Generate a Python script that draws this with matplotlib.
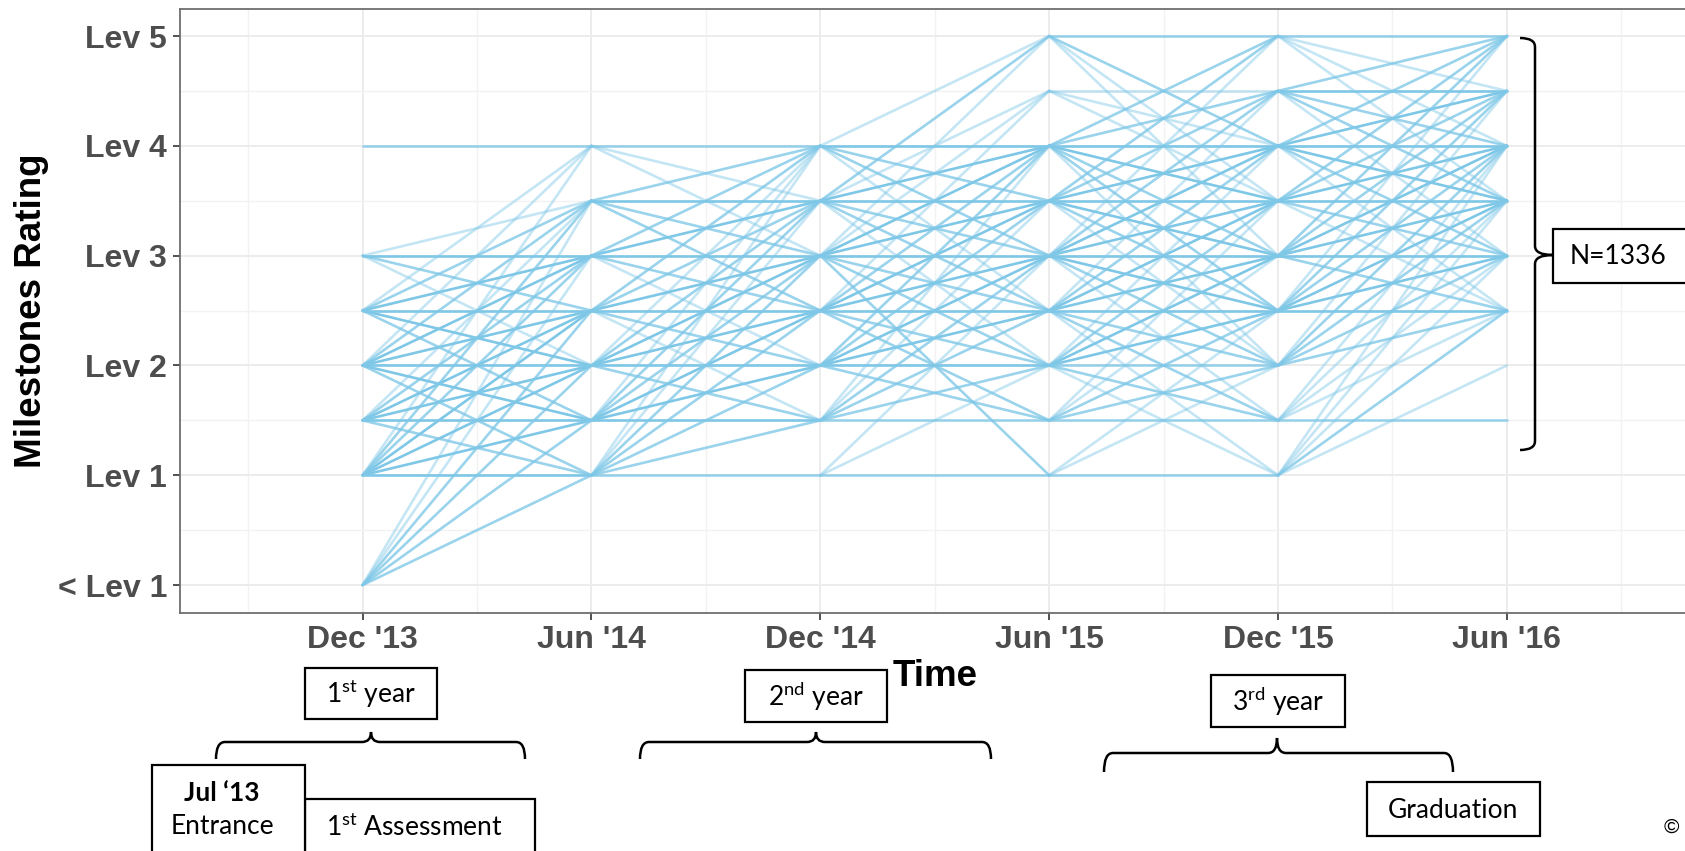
import matplotlib
matplotlib.use("Agg")
import matplotlib.pyplot as plt
from matplotlib.path import Path
from matplotlib.patches import PathPatch, Rectangle

# Milestones rating trajectories, Dec 2013 - Jun 2016
time_pos = [0, 1, 2, 3, 4, 5]
time_labels = ["Dec '13", "Jun '14", "Dec '14", "Jun '15", "Dec '15", "Jun '16"]
level_pos = [0, 1, 2, 3, 4, 5]
level_labels = ["< Lev 1", "Lev 1", "Lev 2", "Lev 3", "Lev 4", "Lev 5"]

# transitions between two assessments: (from level, to level, density 1=few .. 3=many)
dec13_jun14 = [
    (4, 4, 2),
    (3, 3, 3), (3, 3.5, 1), (3, 2.5, 2), (3, 2, 1),
    (2.5, 2.5, 3), (2.5, 3, 3), (2.5, 3.5, 2), (2.5, 4, 1), (2.5, 2, 3), (2.5, 1.5, 2),
    (2, 2, 3), (2, 2.5, 3), (2, 3, 3), (2, 3.5, 2), (2, 4, 1), (2, 1.5, 3), (2, 1, 2),
    (1.5, 1.5, 3), (1.5, 2, 3), (1.5, 2.5, 3), (1.5, 3, 2), (1.5, 3.5, 1), (1.5, 1, 2),
    (1, 1, 3), (1, 1.5, 3), (1, 2, 3), (1, 2.5, 3), (1, 3, 2), (1, 3.5, 2), (1, 4, 1),
    (0, 1, 2), (0, 1.5, 2), (0, 2, 2), (0, 2.5, 2), (0, 3, 1), (0, 3.5, 1),
]
jun14_dec14 = [
    (4, 4, 2), (4, 3.5, 1), (4, 3, 1),
    (3.5, 3.5, 3), (3.5, 4, 2), (3.5, 3, 2), (3.5, 2.5, 2),
    (3, 3, 3), (3, 3.5, 3), (3, 4, 2), (3, 2.5, 2), (3, 2, 1),
    (2.5, 2.5, 3), (2.5, 3, 3), (2.5, 3.5, 2), (2.5, 4, 2), (2.5, 2, 2), (2.5, 1.5, 1),
    (2, 2, 3), (2, 2.5, 3), (2, 3, 3), (2, 3.5, 2), (2, 4, 1), (2, 1.5, 2),
    (1.5, 1.5, 3), (1.5, 2, 3), (1.5, 2.5, 3), (1.5, 3, 2), (1.5, 3.5, 2), (1.5, 4, 1),
    (1, 1, 2), (1, 1.5, 2), (1, 2, 2), (1, 2.5, 2), (1, 3, 2), (1, 3.5, 1), (1, 4, 1),
]
dec14_jun15 = [
    (4, 5, 1), (4, 4, 3), (4, 3.5, 2), (4, 3, 2), (4, 2.5, 1),
    (3.5, 5, 2), (3.5, 4.5, 1), (3.5, 4, 3), (3.5, 3.5, 3), (3.5, 3, 2), (3.5, 2.5, 2), (3.5, 2, 1),
    (3, 5, 1), (3, 4.5, 1), (3, 4, 3), (3, 3.5, 3), (3, 3, 3), (3, 2.5, 2), (3, 2, 2), (3, 1, 2),
    (2.5, 4.5, 1), (2.5, 4, 2), (2.5, 3.5, 3), (2.5, 3, 3), (2.5, 2.5, 3), (2.5, 2, 2), (2.5, 1.5, 2),
    (2, 4, 2), (2, 3.5, 2), (2, 3, 3), (2, 2.5, 3), (2, 2, 3), (2, 1.5, 2),
    (1.5, 1.5, 2), (1.5, 2, 2), (1.5, 2.5, 2), (1.5, 3, 2), (1.5, 3.5, 1), (1.5, 4, 1),
    (1, 1, 2), (1, 2, 1), (1, 3, 1),
]
jun15_dec15 = [
    (5, 5, 2), (5, 4, 2), (5, 3.5, 1), (5, 3, 1),
    (4.5, 4.5, 1), (4.5, 4, 1), (4.5, 3.5, 1),
    (4, 5, 2), (4, 4.5, 2), (4, 4, 3), (4, 3.5, 3), (4, 3, 2), (4, 2.5, 2), (4, 2, 1),
    (3.5, 5, 2), (3.5, 4.5, 2), (3.5, 4, 3), (3.5, 3.5, 3), (3.5, 3, 3), (3.5, 2.5, 2), (3.5, 2, 1),
    (3, 5, 1), (3, 4.5, 2), (3, 4, 3), (3, 3.5, 3), (3, 3, 3), (3, 2.5, 3), (3, 2, 2), (3, 1.5, 1),
    (2.5, 4.5, 1), (2.5, 4, 2), (2.5, 3.5, 3), (2.5, 3, 3), (2.5, 2.5, 3), (2.5, 2, 2), (2.5, 1.5, 2), (2.5, 1, 1),
    (2, 4, 1), (2, 3.5, 2), (2, 3, 3), (2, 2.5, 3), (2, 2, 2), (2, 1.5, 2), (2, 1, 1),
    (1.5, 3.5, 1), (1.5, 3, 1), (1.5, 2.5, 2), (1.5, 2, 2), (1.5, 1.5, 2),
    (1, 1, 2), (1, 2, 1), (1, 2.5, 1),
]
dec15_jun16 = [
    (5, 5, 2), (5, 4.5, 1), (5, 4, 1), (5, 3.5, 1),
    (4.5, 5, 2), (4.5, 4.5, 3), (4.5, 4, 2), (4.5, 3.5, 2), (4.5, 3, 1),
    (4, 5, 2), (4, 4.5, 3), (4, 4, 3), (4, 3.5, 3), (4, 3, 2), (4, 2.5, 1),
    (3.5, 5, 2), (3.5, 4.5, 2), (3.5, 4, 3), (3.5, 3.5, 3), (3.5, 3, 2), (3.5, 2.5, 1),
    (3, 5, 2), (3, 4.5, 2), (3, 4, 3), (3, 3.5, 3), (3, 3, 3), (3, 2.5, 2),
    (2.5, 5, 1), (2.5, 4.5, 2), (2.5, 4, 2), (2.5, 3.5, 3), (2.5, 3, 3), (2.5, 2.5, 3),
    (2, 4.5, 1), (2, 4, 2), (2, 3.5, 2), (2, 3, 2), (2, 2.5, 2),
    (1.5, 1.5, 2), (1.5, 2.5, 1), (1.5, 3, 1), (1.5, 3.5, 1), (1.5, 4, 1),
    (1, 2, 1), (1, 2.5, 2), (1, 3, 1), (1, 3.5, 1), (1, 4, 1),
]
intervals = [dec13_jun14, jun14_dec14, dec14_jun15, jun15_dec15, dec15_jun16]

line_color = "#7EC7E7"
alpha_for = {1: 0.45, 2: 0.78, 3: 1.0}

W, H = 1685, 851
fig = plt.figure(figsize=(W / 100, H / 100), dpi=100)
fig.patch.set_facecolor("white")

# plot panel (in pixels: left 179.5, right 1690, top 8.6, bottom 612.5)
ax = fig.add_axes([179.5 / W, 1 - 612.5 / H, (1690 - 179.5) / W, (612.5 - 8.6) / H])
ax.set_xlim(-0.8, 5.8)
ax.set_ylim(-0.25, 5.25)

for i, trans in enumerate(intervals):
    for a, b, w in sorted(trans, key=lambda t: t[2]):
        ax.plot([time_pos[i], time_pos[i + 1]], [a, b], color=line_color,
                alpha=alpha_for[w], lw=1.9, solid_capstyle="round", zorder=3)

ax.set_xticks(time_pos)
ax.set_xticklabels(time_labels)
ax.set_yticks(level_pos)
ax.set_yticklabels(level_labels)
ax.set_xticks([-0.5, 0.5, 1.5, 2.5, 3.5, 4.5, 5.5], minor=True)
ax.set_yticks([0.5, 1.5, 2.5, 3.5, 4.5], minor=True)
ax.grid(which="major", color="#EBEBEB", lw=1.3, zorder=0)
ax.grid(which="minor", color="#F2F2F2", lw=1.0, zorder=0)
ax.set_axisbelow(True)

for lab in ax.get_xticklabels() + ax.get_yticklabels():
    lab.set_fontfamily("Liberation Sans")
    lab.set_fontweight("bold")
    lab.set_fontsize(23)
    lab.set_color("#4D4D4D")
ax.tick_params(which="major", length=5, width=1.2, color="#333333", pad=4)
ax.tick_params(which="minor", length=0)
for s in ax.spines.values():
    s.set_color("#6E6E6E")
    s.set_linewidth(1.3)

ax.set_ylabel("Milestones Rating", fontfamily="Liberation Sans", fontweight="bold",
              fontsize=26.5, color="black", va="center")
ax.yaxis.set_label_coords((32 - 179.5) / 1510.5, 0.5)
ax.set_xlabel("Time", fontfamily="Liberation Sans", fontweight="bold",
              fontsize=26.5, color="black", va="center")
ax.xaxis.set_label_coords(0.5, (612.5 - 676) / 603.9)

# overlay in pixel coordinates for the annotation boxes and braces
ov = fig.add_axes([0, 0, 1, 1], zorder=10)
ov.set_xlim(0, W)
ov.set_ylim(H, 0)
ov.axis("off")

box_font = dict(fontfamily="Lato", fontsize=19, color="black", ha="center", va="center")


def box(x0, y0, x1, y1):
    ov.add_patch(Rectangle((x0, y0), x1 - x0, y1 - y0, facecolor="white",
                           edgecolor="black", lw=1.6, clip_on=False))


def hbrace(x1, x2, xm, y, h, t, r=9):
    verts = [(x1, y + h), (x1, y), (x1 + r, y),
             (xm - r, y), (xm, y), (xm, y - t),
             (xm, y), (xm + r, y),
             (x2 - r, y), (x2, y), (x2, y + h)]
    codes = [Path.MOVETO, Path.CURVE3, Path.CURVE3,
             Path.LINETO, Path.CURVE3, Path.CURVE3,
             Path.CURVE3, Path.CURVE3,
             Path.LINETO, Path.CURVE3, Path.CURVE3]
    ov.add_patch(PathPatch(Path(verts, codes), facecolor="none", edgecolor="black", lw=1.8))


def vbrace(x, y1, y2, ym, h, t, r=9):
    verts = [(x - h, y1), (x, y1), (x, y1 + r),
             (x, ym - r), (x, ym), (x + t, ym),
             (x, ym), (x, ym + r),
             (x, y2 - r), (x, y2), (x - h, y2)]
    codes = [Path.MOVETO, Path.CURVE3, Path.CURVE3,
             Path.LINETO, Path.CURVE3, Path.CURVE3,
             Path.CURVE3, Path.CURVE3,
             Path.LINETO, Path.CURVE3, Path.CURVE3]
    ov.add_patch(PathPatch(Path(verts, codes), facecolor="none", edgecolor="black", lw=1.8))


# year boxes and braces
box(305, 668, 437, 719)
ov.text(371, 694, r"$\mathregular{1^{st}}$ year", **box_font)
hbrace(216, 525, 371, 742, 17, 10)

box(745, 670, 887, 722)
ov.text(816, 697, r"$\mathregular{2^{nd}}$ year", **box_font)
hbrace(640, 991, 816, 742, 17, 10)

box(1211, 675, 1345, 727)
ov.text(1278, 702, r"$\mathregular{3^{rd}}$ year", **box_font)
hbrace(1104, 1453, 1277, 753, 19, 15)

# milestones
box(305, 799, 535, 880)
ov.text(414, 827, r"$\mathregular{1^{st}}$ Assessment", **box_font)
box(152, 765, 305, 880)
ov.text(222, 793, "Jul \u201813", fontweight="bold", **box_font)
ov.text(222, 827, "Entrance", **box_font)

box(1367, 782, 1540, 836)
ov.text(1453, 810, "Graduation", **box_font)

# sample size
vbrace(1535, 38, 450, 255, 15, 18)
box(1553, 229, 1720, 283)
ov.text(1618, 256, "N=1336", **box_font)

ov.text(1664, 827, "\u00a9", fontfamily="Liberation Sans", fontsize=15, ha="left", va="center")

fig.savefig("out.png", dpi=100, facecolor="white")
